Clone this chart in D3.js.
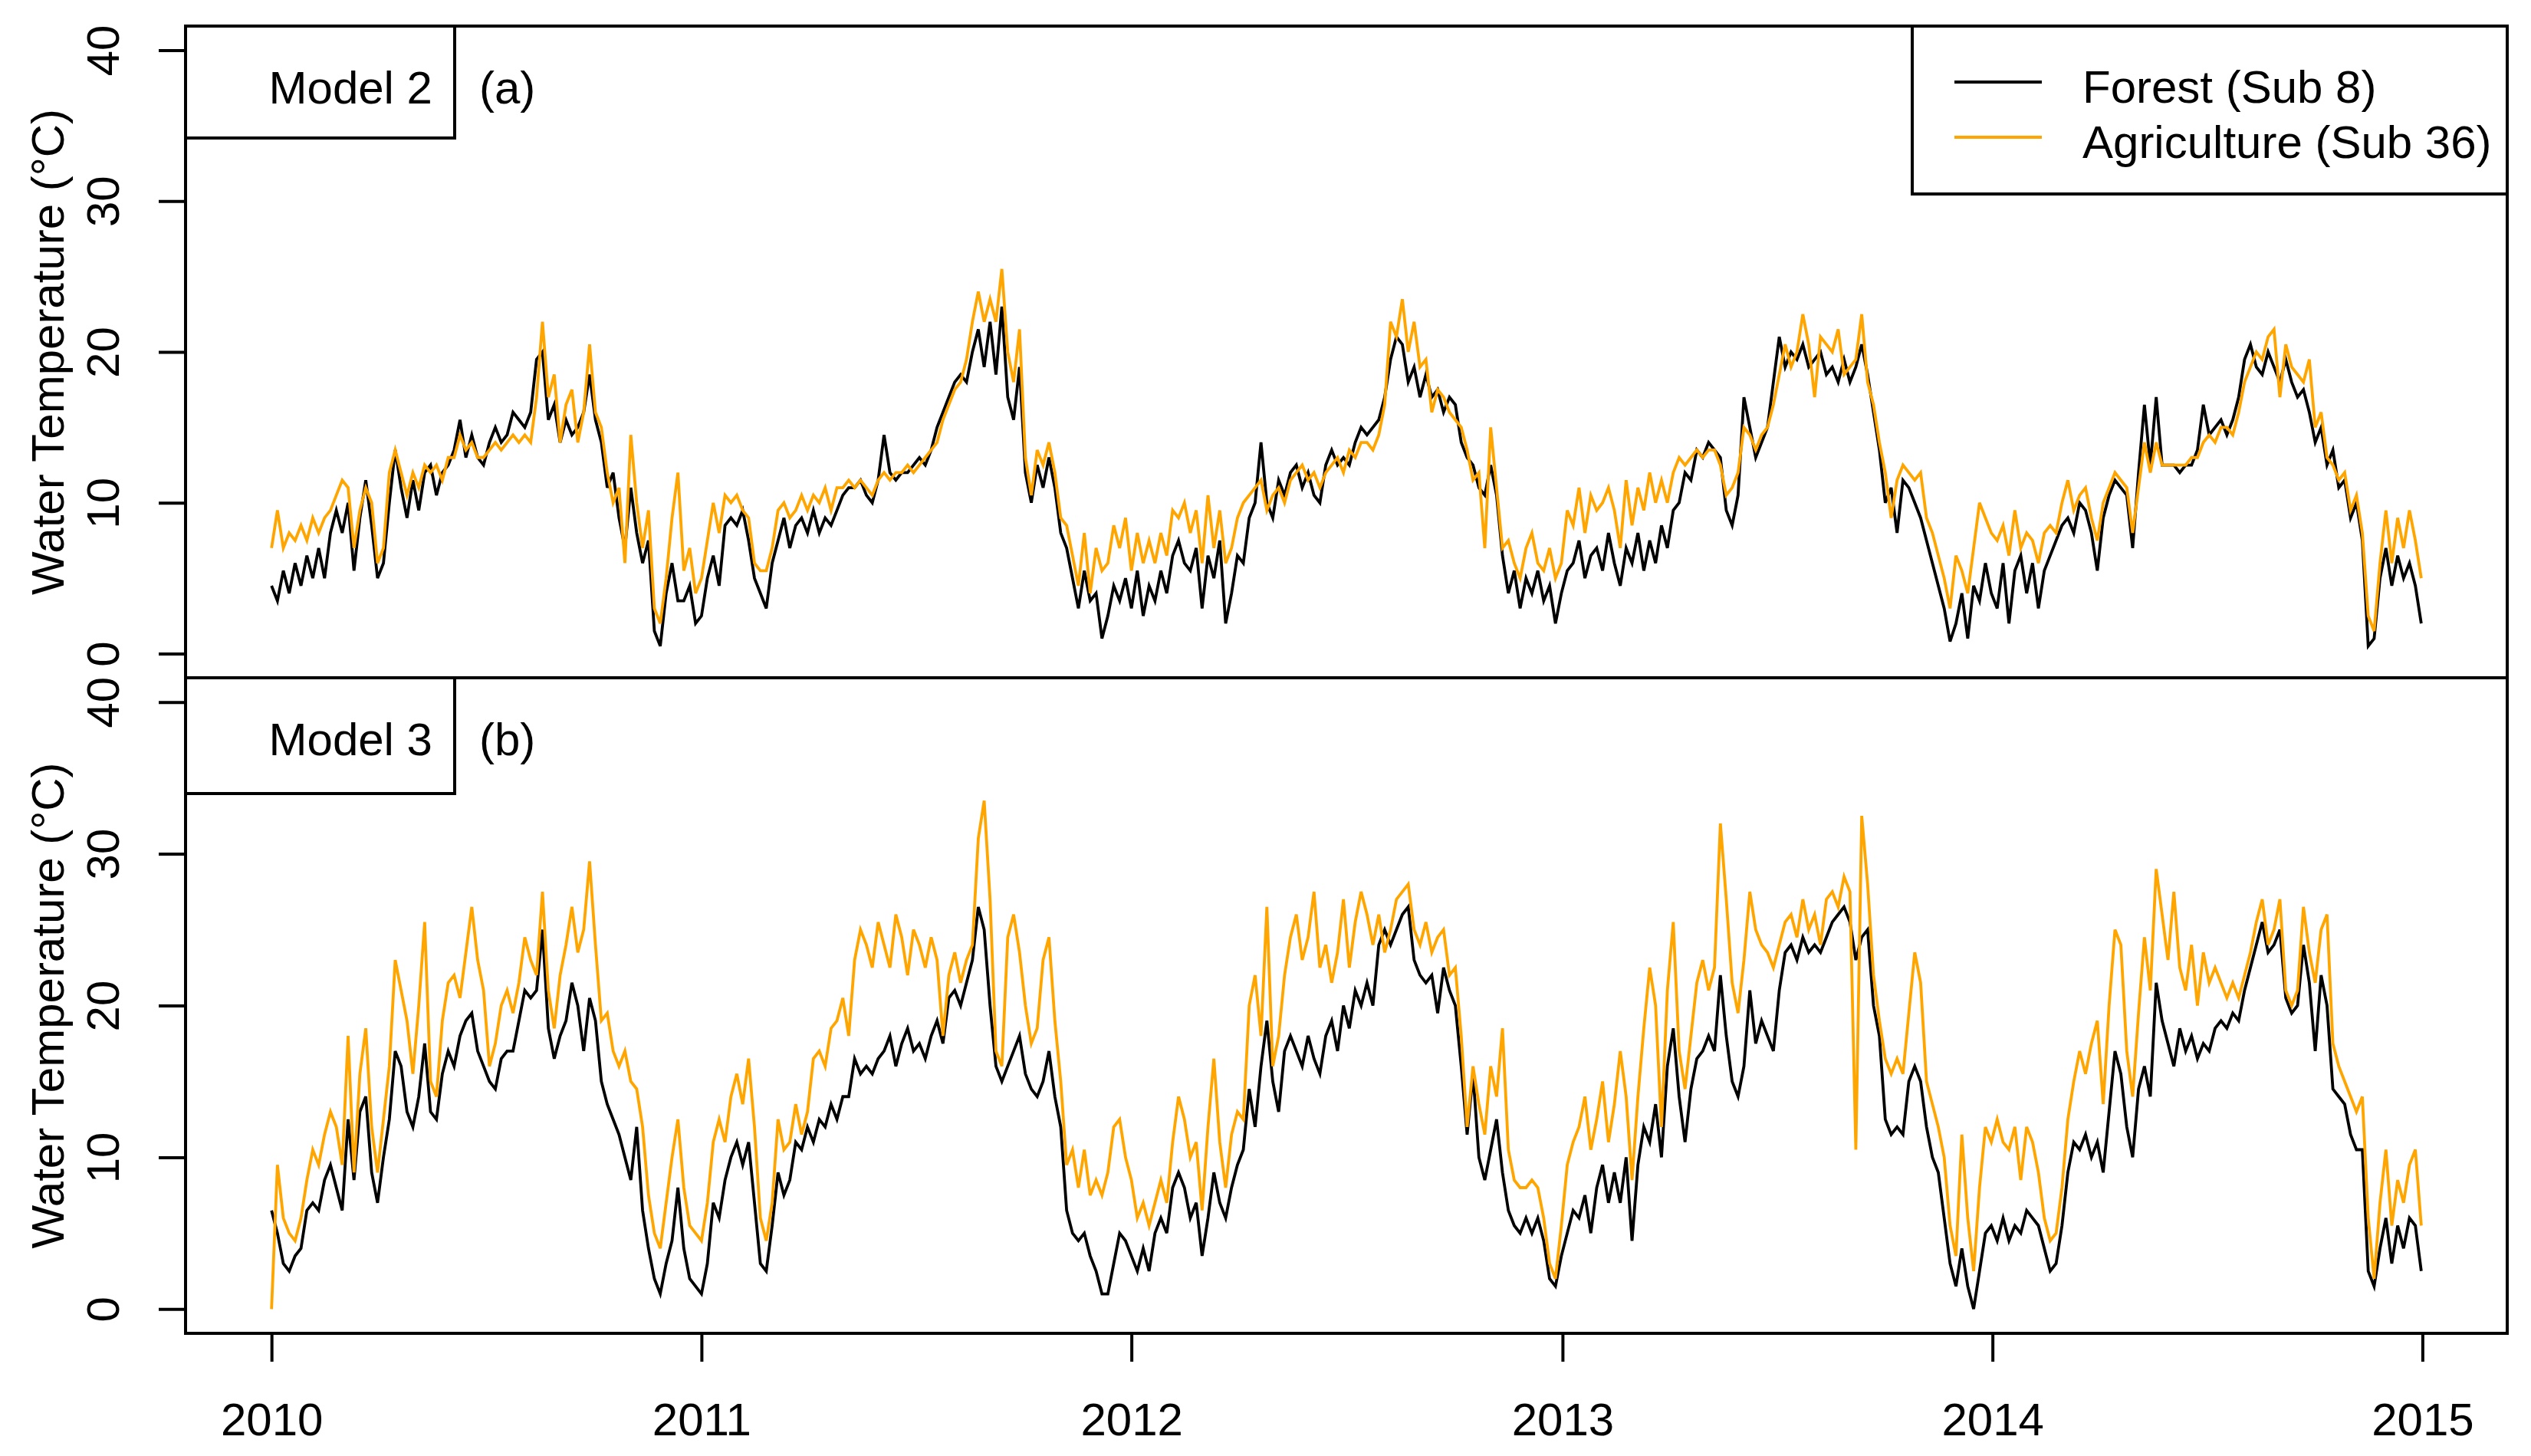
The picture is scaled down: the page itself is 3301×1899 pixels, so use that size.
<!DOCTYPE html>
<html><head><meta charset="utf-8">
<script src="https://cdn.jsdelivr.net/npm/d3@7"></script>
<style>body{margin:0;background:#fff}svg{display:block}</style>
</head><body>
<svg id="chart" width="3301" height="1899"></svg>
<script>
// ---------------- DATA ----------------
const yearTicks = [2010, 2011, 2012, 2013, 2014, 2015];
const yTicks = [0, 10, 20, 30, 40];
const startDate = "2010-01-01";   // first sample
const stepDays = 5;               // one reading every 5 days
const seriesNames = ["Forest (Sub 8)", "Agriculture (Sub 36)"];
const seriesColors = ["#000000", "#FFA500"];
const panelNames = ["Model 2", "Model 3"];
const panelTags = ["(a)", "(b)"];
const yTitle = "Water Temperature (\u00B0C)";

// Model 2 – Forest (Sub 8), rows = years 2010..2014
const forestM2 = [
 4.5,3.5,5.5,4,6,4.5,6.5,5,7,5,8,9.5,8,10,5.5,9,11.5,8.5,5,6,10,13.5,11,9,11.5,9.5,12,12.5,10.5,12,12.5,13.5,15.5,13,14.5,13,12.5,14,15,14,14.5,16,15.5,15,16,19.5,20,15.5,16.5,14,15.5,14.5,15,16,18.5,15.5,14,11,12,9,7,11,8,6,7.5,1.5,0.5,4,6,3.5,3.5,4.5,2,
 2.5,5,6.5,4.5,8.5,9,8.5,9.5,7.5,5,4,3,6,7.5,9,7,8.5,9,8,9.5,8,9,8.5,9.5,10.5,11,11,11.5,10.5,10,11.5,14.5,12,11.5,12,12,12.5,13,12.5,13.5,15,16,17,18,18.5,18,20,21.5,19,22,18.5,23,17,15.5,19,12,10,12.5,11,13,11,8,7,5,3,5.5,3.5,4,1,2.5,4.5,3.5,5,
 3,5.5,2.5,4.5,3.5,5.5,4,6.5,7.5,6,5.5,7,3,6.5,5,7.5,2,4,6.5,6,9,10,14,10,9,11.5,10.5,12,12.5,11,12,10.5,10,12.5,13.5,12.5,13,12.5,14,15,14.5,15,15.5,17,19.5,21,20.5,18,19,17,18.5,17,17.5,16,17,16.5,14,13,12.5,11,10.5,12.5,10.5,6.5,4,5.5,3,5,4,5.5,3.5,4.5,2,4,
 5.5,6,7.5,5,6.5,7,5.5,8,6,4.5,7,6,8,5.5,7.5,6,8.5,7,9.5,10,12,11.5,13.5,13,14,13.5,13,9.5,8.5,10.5,17,15,13,14,15,18,21,19,20,19.5,20.5,19,19.5,20,18.5,19,18,19.5,18,19,20.5,18.5,16,13.5,10,11,8,11.5,11,10,9,7.5,6,4.5,3,0.8,2,4,1,4.5,3.5,6,4,
 3,6,2,5.5,6.5,4,6,3,5.5,6.5,7.5,8.5,9,8,10,9.5,8,5.5,9,10.5,11.5,11,10.5,7,12,16.5,12.5,17,12.5,12.5,12.5,12,12.5,12.5,13.5,16.5,14.5,15,15.5,14.5,15.5,17,19.5,20.5,19,18.5,20,19,18,19.5,18,17,17.5,16,14,15,12.5,13.5,11,11.5,9,10,7.5,0.5,1,5,7,4.5,6.5,5,6,4.5,2
];
// Model 2 – Agriculture (Sub 36)
const agriM2 = [
 7,9.5,7,8,7.5,8.5,7.5,9,8,9,9.5,10.5,11.5,11,7,9.5,11,10,6,7,12,13.5,12,10.5,12,11,12.5,12,12.5,11.5,13,13,14.5,13.5,14,13,13,13.5,14,13.5,14,14.5,14,14.5,14,17,22,17,18.5,14,16.5,17.5,14,16,20.5,16,15,12,10,11,6,14.5,10,7,9.5,3,2,5,9,12,5.5,7,4,
 5,7.5,10,8,10.5,10,10.5,9.5,9,6,5.5,5.5,7,9.5,10,9,9.5,10.5,9.5,10.5,10,11,9.5,11,11,11.5,11,11.5,11,10.5,11.5,12,11.5,12,12,12.5,12,12.5,13,13.5,14,15.5,16.5,17.5,18,19.5,22,24,22,23.5,22,25.5,20,18,21.5,13,10.5,13.5,12.5,14,12,9,8.5,6.5,4.5,8,4,7,5.5,6,8.5,7,9,
 5.5,8,6,7.5,6,8,6.5,9.5,9,10,8,9.5,6,10.5,7,9.5,6,7,9,10,10.5,11,11.5,9.5,10.5,11,10,11.5,12,12.5,11.5,12,11,12,12.5,13,12,13.5,13,14,14,13.5,14.5,16.5,22,21,23.5,20,22,19,19.5,16,17.5,17,16,15.5,15,13.5,11.5,12,7,15,11,7,7.5,6,5,7,8,6,5.5,7,5,6,
 9.5,8.5,11,8,10.5,9.5,10,11,9.5,7,11.5,8.5,11,9.5,12,10,11.5,10,12,13,12.5,13,13.5,13,13.5,13.5,12.5,10.5,11,12,15,14.5,13.5,14.5,15,16.5,18.5,20.5,19,20,22.5,20.5,17,21,20.5,20,21.5,18.5,19,19.5,22.5,18,16.5,14,12,9,11.5,12.5,12,11.5,12,9,8,6.5,5,3,6.5,5.5,4,7,10,9,8,
 7.5,8.5,6.5,9.5,7,8,7.5,6,8,8.5,8,10,11.5,9.5,10.5,11,9,7.5,10,11,12,11.5,11,8,11,14,12,14,12.5,12.5,12.5,12.5,12.5,13,13,14,14.5,14,15,15,14.5,16,18,19,20,19.5,21,21.5,17,20.5,19,18.5,18,19.5,15,16,13,12.5,11.5,12,9.5,10.5,8,2.5,1.5,6,9.5,6,9,7,9.5,7.5,5
];
// Model 3 – Forest (Sub 8)
const forestM3 = [
 6.5,5,3,2.5,3.5,4,6.5,7,6.5,8.5,9.5,8,6.5,12.5,8.5,13,14,9,7,10,12.5,17,16,13,12,14,17.5,13,12.5,15.5,17,16,18,19,19.5,17,16,15,14.5,16.5,17,17,19,21,20.5,21,25,18.5,16.5,18,19,21.5,20,17,20.5,19,15,13.5,12.5,11.5,10,8.5,12,6.5,4,2,1,3,4.5,8,4,2,1.5,
 1,3,7,6,8.5,10,11,9.5,11,7,3,2.5,5.5,9,7.5,8.5,11,10.5,12,11,12.5,12,13.5,12.5,14,14,16.5,15.5,16,15.5,16.5,17,18,16,17.5,18.5,17,17.5,16.5,18,19,17.5,20.5,21,20,21.5,23,26.5,25,20,16,15,16,17,18,15.5,14.5,14,15,17,14,12,6.5,5,4.5,5,3.5,2.5,1,1,3,5,4.5,
 3.5,2.5,4,2.5,5,6,5,8,9,8,6,7,3.5,6,9,7,6,8,9.5,10.5,14.5,12,16,19,15,13,17,18,17,16,18,16.5,15.5,18,19,17,20,18.5,21,20,21.5,20,24,25,24,25,26,26.5,23,22,21.5,22,19.5,22.5,21,20,16,11.5,15.5,10,8.5,10.5,12.5,9,6.5,5.5,5,6,5,6,4.5,2,1.5,3.5,
 5,6.5,6,7.5,5,8,9.5,7,9,7,10,4.5,9.5,12,11,13.5,10,16,18.5,14,11,14.5,16.5,17,18,17,22,18,15,14,16,21,17.5,19,18,17,21,23.5,24,23,24.5,23.5,24,23.5,24.5,25.5,26,26.5,25.5,23,24.5,25,20,18,12.5,11.5,12,11.5,15,16,15,12,10,9,6,3,1.5,4,1.5,0,2.5,5,5.5,
 4.5,6,4.5,5.5,5,6.5,6,5.5,4,2.5,3,5.5,9,11,10.5,11.5,10,11,9,13,17,15.5,12,10,14.5,16,14,21.5,19,17.5,16,18.5,17,18,16.5,17.5,17,18.5,19,18.5,19.5,19,21,22.5,24,25.5,23.5,24,25,20.5,19.5,20,24,21.5,17,22,20,14.5,14,13.5,11.5,10.5,10.5,2.5,1.5,4,6,3,5.5,4,6,5.5,2.5
];
// Model 3 – Agriculture (Sub 36)
const agriM3 = [
 0,9.5,6,5,4.5,6,8.5,10.5,9.5,11.5,13,12,9.5,18,9,15.5,18.5,12,9,12.5,16,23,21,19,15.5,20,25.5,15,14,19,21.5,22,20.5,23.5,26.5,23,21,16,17.5,20,21,19.5,21.5,24.5,23,22,27.5,21,18.5,22,24,26.5,23.5,25,29.5,24,19,19.5,17,16,17,15,14.5,12,7.5,5,4,7,10,12.5,8,5.5,5,
 4.5,7,11,12.5,11,14,15.5,13.5,16.5,12,6,4.5,7,12.5,10.5,11,13.5,11.5,13,16.5,17,16,18.5,19,20.5,18,23,25,24,22.5,25.5,24,22.5,26,24.5,22,25,24,22.5,24.5,23,18,22,23.5,21.5,23,24,31,33.5,27,17,16,24.5,26,23.5,20,17.5,18.5,23,24.5,19,15,9.5,10.5,8,10.5,7.5,8.5,7.5,9,12,12.5,10,
 8.5,6,7,5.5,7,8.5,7,11,14,12.5,10,11,6.5,12,16.5,11,8,11.5,13,12.5,20,22,18,26.5,16,18,22,24.5,26,23,24.5,27.5,22.5,24,21.5,23.5,27,22.5,25.5,27.5,26,24,26,23.5,25,27,27.5,28,25,24,25.5,23.5,24.5,25,22,22.5,18,12,16,13.5,11.5,16,14,18.5,10.5,8.5,8,8,8.5,8,6,3,2,5.5,
 9.5,11,12,14,10.5,12.5,15,11,13.5,17,14,8.5,14,18.5,22.5,20,12,21,25.5,17,14.5,18,21.5,23,21,22.5,32,27,21.5,19.5,23,27.5,25,24,23.5,22.5,24,25.5,26,24.5,27,25,26,24,27,27.5,26.5,28.5,27.5,10.5,32.5,28,22,19,16.5,15.5,16.5,15.5,19.5,23.5,21.5,15,13.5,12,10,5.5,3.5,11.5,6,2.5,8,12,11,
 12.5,11,10.5,12,8.5,12,11,9,6,4.5,5,8,12.5,15,17,15.5,17.5,19,13.5,20,25,24,17,14,19.5,24.5,21,29,26,23,27.5,22.5,21,24,20,23.5,21.5,22.5,21.5,20.5,21.5,20.5,22,23.5,25.5,27,24,25,27,21,20,21,26.5,23.5,21.5,25,26,17.5,16,15,14,13,14,6,2,7,10.5,5.5,8.5,7,9.5,10.5,5.5
];

// ---------------- CHART ----------------
const FONT = "'Liberation Sans', Arial, Helvetica, sans-serif";
const FS = 60;
const svg = d3.select("#chart");
svg.append("rect").attr("width", 3301).attr("height", 1899).attr("fill", "#fff");

const plotLeft = 242, plotRight = 3270;
const panels = [
  {top: 34, bottom: 884, series: [forestM2, agriM2], name: panelNames[0], tag: panelTags[0]},
  {top: 884, bottom: 1739, series: [forestM3, agriM3], name: panelNames[1], tag: panelTags[1]}
];

const t0 = new Date(startDate + "T00:00:00Z");
const dateAt = i => d3.utcDay.offset(t0, i * stepDays);
const nPts = forestM2.length;
const tEnd = dateAt(nPts - 1);
const pad = 0.04 * (tEnd - t0);
const x = d3.scaleUtc()
  .domain([new Date(+t0 - pad), new Date(+tEnd + pad)])
  .range([plotLeft, plotRight]);

const yMin = 0, yMax = 40, yPad = 0.04 * (yMax - yMin);

panels.forEach((p, pi) => {
  const y = d3.scaleLinear().domain([yMin - yPad, yMax + yPad]).range([p.bottom, p.top]);
  const g = svg.append("g");

  // data lines
  p.series.forEach((vals, si) => {
    const line = d3.line()
      .x((d, i) => x(dateAt(i)))
      .y(d => y(d));
    g.append("path")
      .datum(vals)
      .attr("d", line)
      .attr("fill", "none")
      .attr("stroke", seriesColors[si])
      .attr("stroke-width", 3.8)
      .attr("stroke-linejoin", "miter");
  });

  // y axis
  const ax = g.append("g").attr("transform", `translate(${plotLeft},0)`)
    .call(d3.axisLeft(y).tickValues(yTicks).tickSize(35).tickFormat(d3.format("d")));
  ax.select(".domain").remove();
  ax.selectAll(".tick line").attr("stroke", "#000").attr("stroke-width", 4);
  ax.selectAll(".tick text")
    .attr("x", null).attr("dy", null)
    .attr("transform", `translate(${155 - plotLeft},0) rotate(-90)`)
    .attr("text-anchor", "middle")
    .attr("fill", "#000")
    .style("font-family", FONT).style("font-size", FS + "px");

  // y title
  g.append("text")
    .attr("transform", `translate(83,${(p.top + p.bottom) / 2}) rotate(-90)`)
    .attr("text-anchor", "middle")
    .style("font-family", FONT).style("font-size", FS + "px")
    .text(yTitle);

  // frame
  g.append("rect")
    .attr("x", plotLeft).attr("y", p.top)
    .attr("width", plotRight - plotLeft).attr("height", p.bottom - p.top)
    .attr("fill", "none").attr("stroke", "#000").attr("stroke-width", 4);

  // model label box
  const boxH = pi === 0 ? 146 : 151;
  g.append("rect")
    .attr("x", plotLeft).attr("y", p.top)
    .attr("width", 593 - plotLeft).attr("height", boxH)
    .attr("fill", "#fff").attr("stroke", "#000").attr("stroke-width", 4);
  g.append("text")
    .attr("x", 564).attr("y", p.top + 101)
    .attr("text-anchor", "end")
    .style("font-family", FONT).style("font-size", FS + "px")
    .text(p.name);
  g.append("text")
    .attr("x", 625).attr("y", p.top + 101)
    .style("font-family", FONT).style("font-size", FS + "px")
    .text(p.tag);

  // x axis on bottom panel
  if (pi === panels.length - 1) {
    const xa = svg.append("g").attr("transform", `translate(0,${p.bottom})`)
      .call(d3.axisBottom(x)
        .tickValues(yearTicks.map(yr => new Date(Date.UTC(yr, 0, 1))))
        .tickSize(37)
        .tickFormat(d3.utcFormat("%Y")));
    xa.select(".domain").remove();
    xa.selectAll(".tick line").attr("stroke", "#000").attr("stroke-width", 4);
    xa.selectAll(".tick text")
      .attr("y", 133).attr("dy", null)
      .attr("fill", "#000")
      .style("font-family", FONT).style("font-size", FS + "px");
  }
});

// legend (top panel, top-right)
const lg = svg.append("g");
lg.append("rect")
  .attr("x", 2494).attr("y", 34).attr("width", plotRight - 2494).attr("height", 219)
  .attr("fill", "#fff").attr("stroke", "#000").attr("stroke-width", 4);
seriesNames.forEach((nm, i) => {
  const yy = 107 + i * 72;
  lg.append("line")
    .attr("x1", 2549).attr("x2", 2663).attr("y1", yy).attr("y2", yy)
    .attr("stroke", seriesColors[i]).attr("stroke-width", 4);
  lg.append("text")
    .attr("x", 2716).attr("y", yy + 27)
    .style("font-family", FONT).style("font-size", FS + "px")
    .text(nm);
});
</script>
</body></html>
